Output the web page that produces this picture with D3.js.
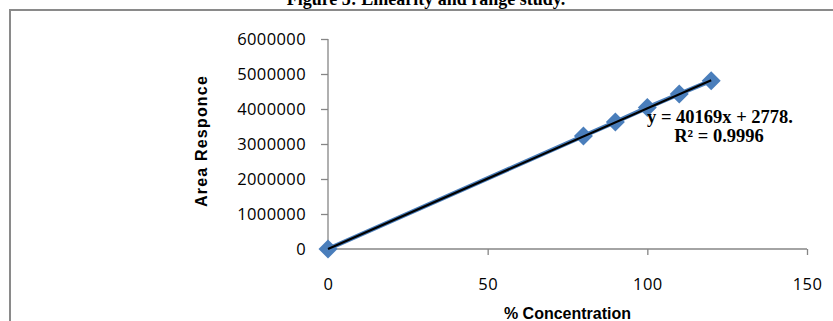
<!DOCTYPE html>
<html>
<head>
<meta charset="utf-8">
<script src="https://cdn.jsdelivr.net/npm/d3@7"></script>
<style>
  html, body { margin: 0; padding: 0; background: #fff; }
  svg { display: block; }
</style>
</head>
<body>
<svg id="chart" width="833" height="321"></svg>
<script>
// ---- data ----
const concentrations = [0, 80, 90, 100, 110, 120];
const areaResponse = [0, 3230000, 3630000, 4040000, 4430000, 4810000];
const xTicks = [0, 50, 100, 150];
const yTicks = [0, 1000000, 2000000, 3000000, 4000000, 5000000, 6000000];
const slope = 40169;
const intercept = 2778;
const equationLabel = "y = 40169x + 2778.";
const r2Label = "R\u00B2 = 0.9996";
const titleText = "Figure 5: Linearity and range study.";
const xTitle = "% Concentration";
const yTitle = "Area Responce";

const svg = d3.select("#chart");
const blue = "#4a7ebb";
const axisColor = "#868686";

// title (partially cut off at top, as in the reference)
svg.append("text")
  .attr("x", 426).attr("y", 5)
  .attr("text-anchor", "middle")
  .attr("font-family", "'Liberation Serif', 'Times New Roman', serif")
  .attr("font-weight", "bold")
  .attr("font-size", 18)
  .attr("fill", "#000")
  .text(titleText);

// chart frame
svg.append("rect")
  .attr("x", 10).attr("y", 10)
  .attr("width", 840).attr("height", 340)
  .attr("fill", "none")
  .attr("stroke", "#8a8a8a")
  .attr("stroke-width", 2);

const x = d3.scaleLinear().domain([0, 150]).range([328, 807]);
const y = d3.scaleLinear().domain([0, 6000000]).range([249, 39]);

// y axis
const yAxis = svg.append("g")
  .attr("transform", `translate(${x(0)},0)`)
  .call(d3.axisLeft(y).tickValues(yTicks).tickSize(7).tickPadding(15).tickFormat(d3.format("d")));
// x axis
const xAxis = svg.append("g")
  .attr("transform", `translate(0,${y(0)})`)
  .call(d3.axisBottom(x).tickValues(xTicks).tickSize(6).tickPadding(23).tickFormat(d3.format("d")));

[yAxis, xAxis].forEach(g => {
  g.select(".domain").attr("stroke", axisColor).attr("stroke-width", 1.3);
  g.selectAll(".tick line").attr("stroke", axisColor).attr("stroke-width", 1.3);
  g.selectAll(".tick text")
    .attr("fill", "#000")
    .attr("font-family", "'Open Sans', 'Liberation Sans', Arial, sans-serif")
    .attr("font-size", 16.5)
    .attr("letter-spacing", "0.4px");
});
xAxis.select(".domain").attr("d", `M${x(0)},0H${x(150)}`);
yAxis.select(".domain").attr("d", `M0,${y(6000000)}V${y(0)}`);

// axis titles
svg.append("text")
  .attr("x", x(75)).attr("y", 319)
  .attr("text-anchor", "middle")
  .attr("font-family", "'Liberation Sans', Arial, sans-serif")
  .attr("font-weight", "bold")
  .attr("font-size", 16)
  .text(xTitle);

svg.append("text")
  .attr("transform", `translate(207,${(y(0) + y(6000000)) / 2 - 3}) rotate(-90)`)
  .attr("text-anchor", "middle")
  .attr("font-family", "'Liberation Sans', Arial, sans-serif")
  .attr("font-weight", "bold")
  .attr("font-size", 16)
  .attr("letter-spacing", "1.2px")
  .text(yTitle);

const pts = concentrations.map((c, i) => [c, areaResponse[i]]);

// series line
svg.append("path")
  .datum(pts)
  .attr("fill", "none")
  .attr("stroke", blue)
  .attr("stroke-width", 4.5)
  .attr("d", d3.line().x(d => x(d[0])).y(d => y(d[1])));

// diamond markers
const r = 9.5;
svg.append("g").selectAll("path")
  .data(pts)
  .join("path")
  .attr("d", d => {
    const cx = x(d[0]), cy = y(d[1]);
    return `M${cx},${cy - r}L${cx + r},${cy}L${cx},${cy + r}L${cx - r},${cy}Z`;
  })
  .attr("fill", blue);

// trendline
const xmin = d3.min(concentrations), xmax = d3.max(concentrations);
svg.append("line")
  .attr("x1", x(xmin)).attr("y1", y(slope * xmin + intercept))
  .attr("x2", x(xmax)).attr("y2", y(slope * xmax + intercept))
  .attr("stroke", "#000")
  .attr("stroke-width", 2.2);

// equation labels
const eq = svg.append("g")
  .attr("font-family", "'Liberation Serif', 'Times New Roman', serif")
  .attr("font-weight", "bold")
  .attr("font-size", 18.5)
  .attr("text-anchor", "middle")
  .attr("fill", "#000");
eq.append("text").attr("x", 720).attr("y", 123).text(equationLabel);
eq.append("text").attr("x", 719).attr("y", 142).text(r2Label);
</script>
</body>
</html>
